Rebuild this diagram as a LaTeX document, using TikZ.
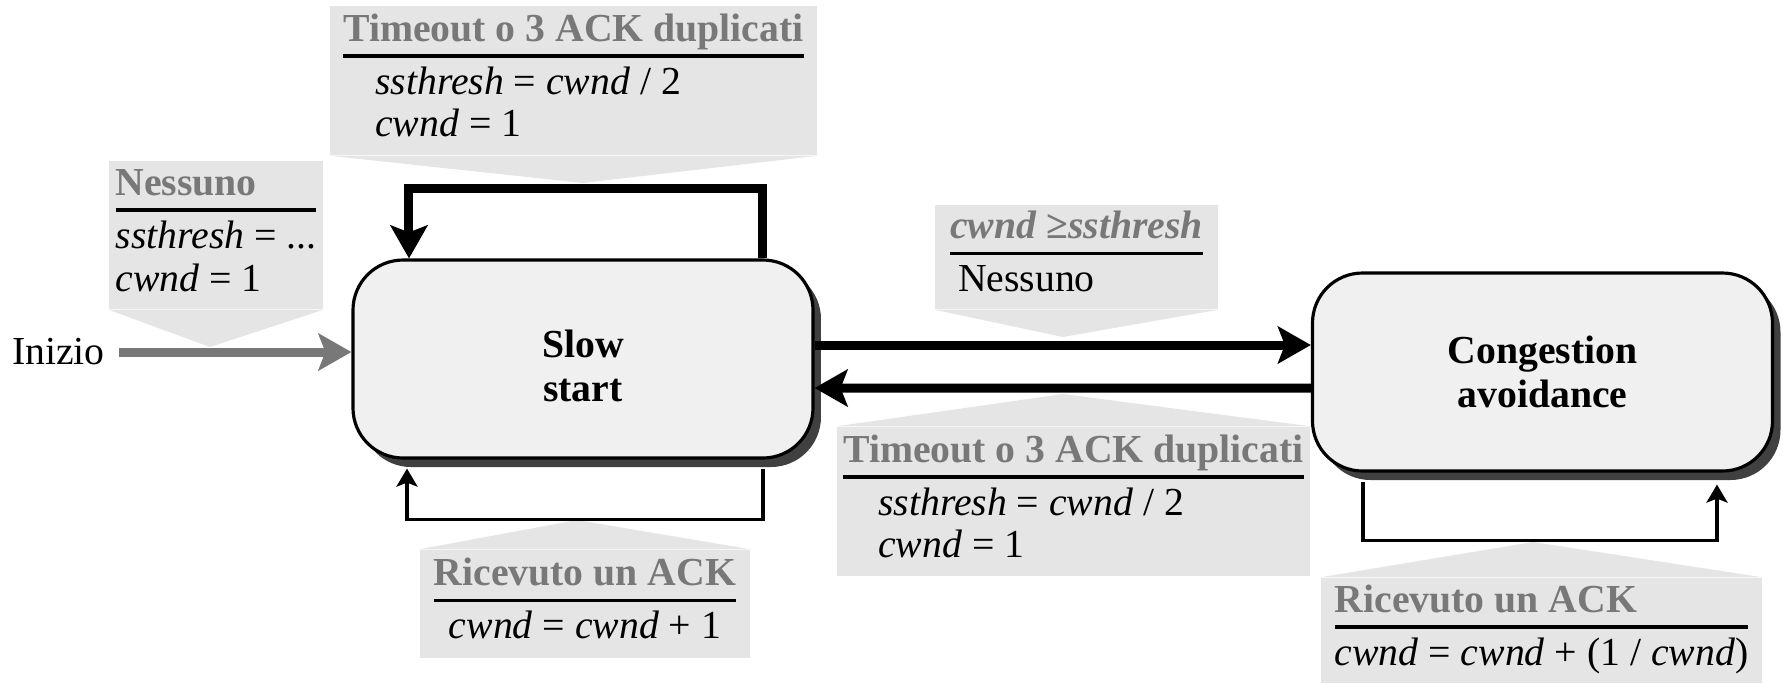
\documentclass[tikz,border=0pt]{standalone}
\usepackage{fontspec}
\setmainfont[Scale=1.13]{Liberation Serif}
\usepackage{tikz}
\usetikzlibrary{arrows.meta, shadows}
\setlength{\arrayrulewidth}{1.1pt}
\newcommand{\headtxt}[1]{\textcolor{black!53}{\textbf{#1}}}
\newcommand{\rulegap}{\\\hline\noalign{\vskip 2pt}}
\tikzstyle{state} = [rectangle, rounded corners=0.5cm, minimum width=4.6cm, minimum height=1.98cm, align=center, font=\fontsize{10}{12.6}\selectfont\bfseries, draw=black, line width=0.9pt, fill=black!6, drop shadow={shadow xshift=0.08cm, shadow yshift=-0.09cm, fill=black!75, opacity=1}]
\tikzstyle{callbox} = [rectangle, inner sep=0pt, fill=black!10]
\tikzstyle{pointer} = [fill=black!10]
\tikzstyle{heavy} = [line width=0.09cm, -{Stealth[length=0.33cm, width=0.37cm, inset=0.07cm]}]
\tikzstyle{light} = [line width=1pt, -{Stealth[length=0.18cm, width=0.21cm, inset=0.04cm]}]
\tikzstyle{startline} = [line width=0.09cm, draw=black!53, -{Stealth[length=0.33cm, width=0.37cm, inset=0.07cm]}]
\begin{document}
\begin{tikzpicture}[node distance=1cm]
            \useasboundingbox (-5.83,3.59) rectangle (12.00,-3.24);
            \node (ss) [state] {\rule{0pt}{0.41cm}Slow\\start};
            \node (ca) [state, right of=ss, xshift=8.595cm, yshift=-0.13cm] {Congestion\\avoidance};
            \node (inizio) [left of=ss, xshift=-4.245cm, yshift=0.07cm] {Inizio};
            \node (c0) [callbox, left of=ss, xshift=-2.67cm, yshift=1.24cm, minimum width=2.14cm, minimum height=1.48cm] {\begin{tabular}{@{}l@{}}\headtxt{Nessuno}\rulegap \textit{ssthresh} = ...\\ \textit{cwnd} = 1\end{tabular}};
            \node (c1) [callbox, above of=ss, xshift=-0.095cm, yshift=1.785cm, minimum width=4.87cm, minimum height=1.49cm] {\begin{tabular}{@{}l@{}}\headtxt{Timeout o 3 ACK duplicati}\rulegap \hspace{0.32cm}\textit{ssthresh} = \textit{cwnd} / 2\\ \hspace{0.32cm}\textit{cwnd} = 1\end{tabular}};
            \node (c2) [callbox, right of=ss, xshift=3.935cm, yshift=1.02cm, minimum width=2.83cm, minimum height=1.04cm] {\begin{tabular}{@{}l@{}}\headtxt{\textit{cwnd} ≥\textit{ssthresh}}\rulegap \hspace{0.08cm}Nessuno\end{tabular}};
            \node (c3) [callbox, right of=ss, xshift=3.905cm, yshift=-1.425cm, minimum width=4.73cm, minimum height=1.49cm] {\begin{tabular}{@{}l@{}}\headtxt{Timeout o 3 ACK duplicati}\rulegap \hspace{0.35cm}\textit{ssthresh} = \textit{cwnd} / 2\\ \hspace{0.35cm}\textit{cwnd} = 1\end{tabular}};
            \node (c4) [callbox, below of=ss, xshift=0.02cm, yshift=-1.45cm, minimum width=3.3cm, minimum height=1.08cm] {\begin{tabular}{@{}c@{}}\headtxt{Ricevuto un ACK}\rulegap \textit{cwnd} = \textit{cwnd} + 1\end{tabular}};
            \node (c5) [callbox, below of=ca, xshift=-0.01cm, yshift=-1.585cm, minimum width=4.41cm, minimum height=1.05cm] {\begin{tabular}{@{}l@{}}\headtxt{Ricevuto un ACK}\rulegap \textit{cwnd} = \textit{cwnd} + (1 / \textit{cwnd})\end{tabular}};
            \coordinate[left of=ss, xshift=-2.73cm, yshift=0.12cm] (p0);
            \coordinate[above of=ss, yshift=0.76cm] (p1);
            \coordinate[right of=ss, xshift=3.8cm, yshift=0.22cm] (p2);
            \coordinate[right of=ss, xshift=3.8cm, yshift=-0.35cm] (p3);
            \coordinate[below of=ss, xshift=-0.06cm, yshift=-0.61cm] (p4);
            \coordinate[below of=ca, xshift=-0.095cm, yshift=-0.7cm] (p5);
            \fill [pointer] (c0.south west) -- (p0) -- (c0.south east) -- cycle;
            \fill [pointer] (c1.south west) -- (p1) -- (c1.south east) -- cycle;
            \fill [pointer] (c2.south west) -- (p2) -- (c2.south east) -- cycle;
            \fill [pointer] (c3.north west) -- (p3) -- (c3.north east) -- cycle;
            \fill [pointer] (c4.north west) -- (p4) -- (c4.north east) -- cycle;
            \fill [pointer] (c5.north west) -- (p5) -- (c5.north east) -- cycle;
            \draw [startline] (inizio) -- (inizio -| ss.west);
            \draw [heavy] ([xshift=1.8cm]ss.north) -- ++(0,0.7) -| ([xshift=-1.74cm]ss.north);
            \draw [light] ([xshift=1.8cm, yshift=-0.09cm]ss.south) -- ++(0,-0.51) -| ([xshift=-1.76cm, yshift=-0.09cm]ss.south);
            \draw [heavy] ([yshift=0.14cm]ss.east) -- ([yshift=0.27cm]ca.west);
            \draw [heavy] ([yshift=-0.16cm]ca.west) -- ([yshift=-0.29cm]ss.east);
            \draw [light] ([xshift=-1.795cm, yshift=-0.09cm]ca.south) -- ++(0,-0.59) -| ([xshift=1.745cm, yshift=-0.12cm]ca.south);
            \end{tikzpicture}
\end{document}
